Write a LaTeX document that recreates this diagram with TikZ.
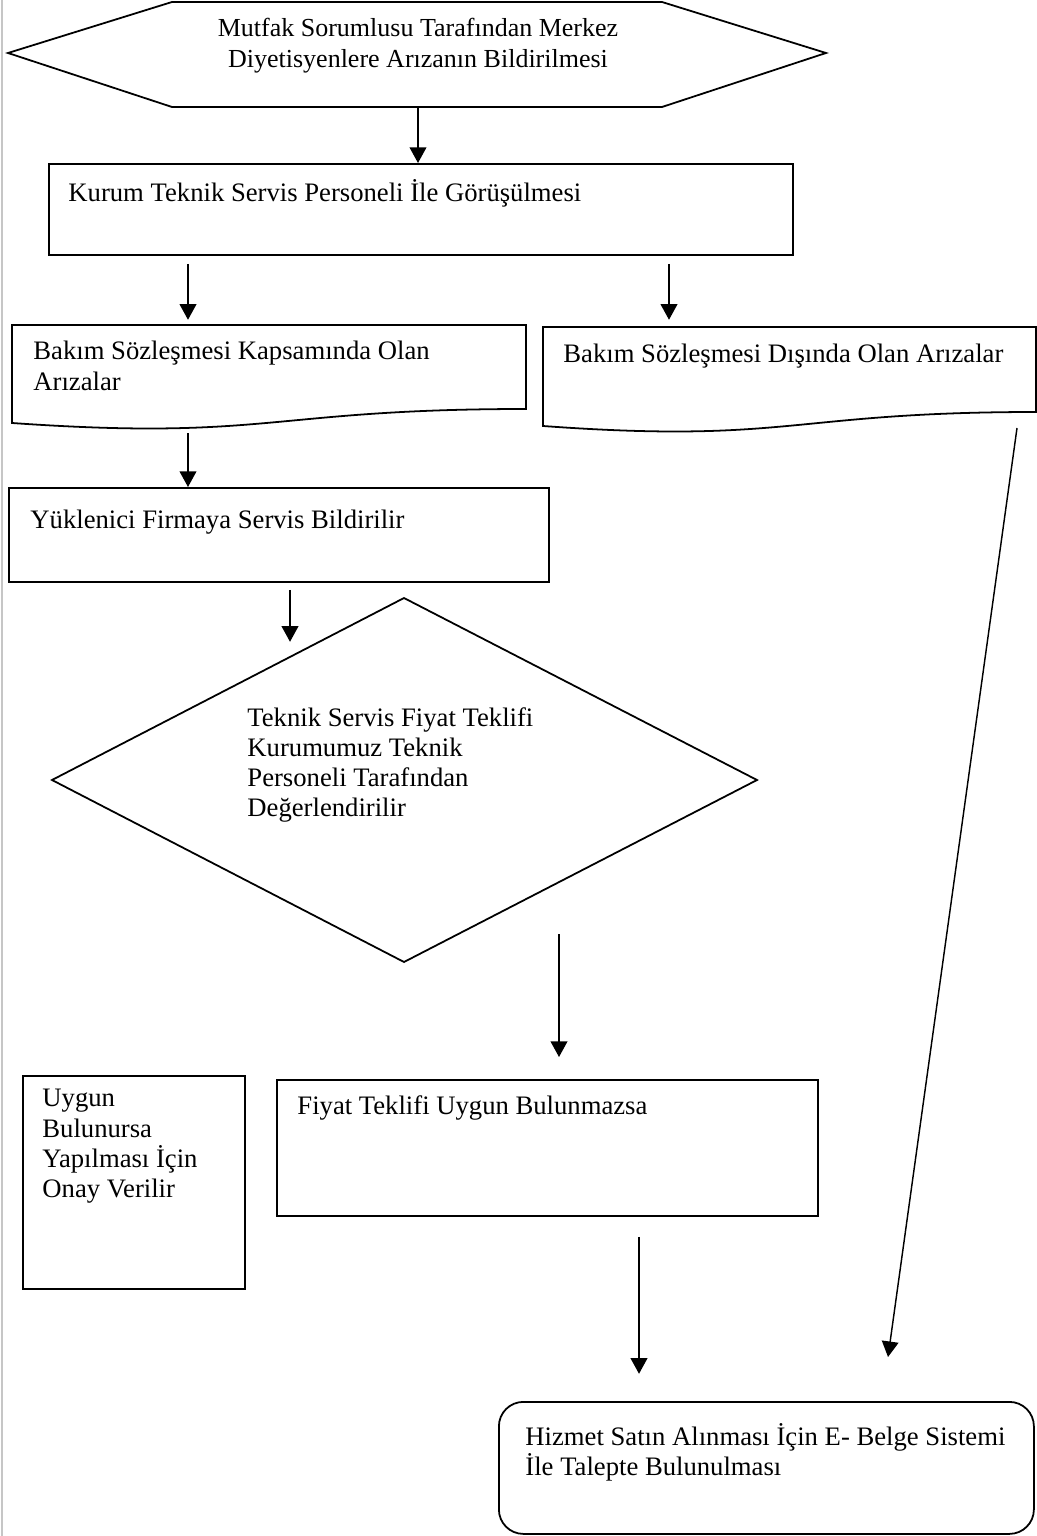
\documentclass[tikz,border=0pt]{standalone}
\usepackage{fontspec}
\setmainfont{Liberation Serif}
\usetikzlibrary{arrows.meta,positioning,calc}
\newcommand{\pxl}{0.45pt}

\tikzset{
  box/.style={draw, line width=0.8pt, inner sep=0pt, anchor=north west},
  shp/.style={draw, line width=0.8pt},
  txt/.style={anchor=north west, inner sep=0pt, align=left,
    font=\fontsize{12}{13.6}\selectfont, execute at begin node=\strut},
  arr/.style={line width=0.65pt, -{Triangle[width=7.5pt,length=7pt]}},
}

\begin{document}
\begin{tikzpicture}[x=0.45pt,y=-0.45pt]
	\useasboundingbox (0,0) rectangle (1036,1536);
	\draw[gray!45, line width=1pt] (2,0) -- (2,1536);
	% start
	\draw[shp] (8,53) -- (172,2) -- (662,2) -- (826,53) -- (662,107) -- (172,107) -- cycle;
	\node[txt, anchor=north, align=center, font=\fontsize{11.7}{14}\selectfont] (bildirim) at (418,18) {Mutfak Sorumlusu Tarafından Merkez\\Diyetisyenlere Arızanın Bildirilmesi};
	\coordinate (hexB) at (418,107);
	% teknik servis
	\node[box, minimum width=744*\pxl, minimum height=91*\pxl] (kurum) at (48,163) {};
	\node[txt] (kurum-t) at ($(kurum.north west)+(20,16)$) {Kurum Teknik Servis Personeli İle Görüşülmesi};
	\draw[arr] (hexB) -- (hexB |- kurum.north);
	% two kinds of faults
	\draw[shp] (12,325) -- (526,325) -- (526,409) .. controls (269,409) and (269,441) .. (12,423) -- cycle;
	\node[txt] (kapsam) at (33,341) {Bakım Sözleşmesi Kapsamında Olan\\Arızalar};
	\draw[shp] (543,327) -- (1036,327) -- (1036,412) .. controls (790,412) and (790,444) .. (543,426) -- cycle;
	\node[txt] (disinda) at (563,341) {Bakım Sözleşmesi Dışında Olan Arızalar};
	\draw[arr] ($(kurum.south west)+(140,8)$) -- ++(0,56);
	\draw[arr] ($(kurum.south west)+(621,8)$) -- ++(0,56);
	% contractor
	\node[box, minimum width=540*\pxl, minimum height=94*\pxl] (yuklenici) at (8,487) {};
	\node[txt] (yuklenici-t) at ($(yuklenici.north west)+(22,20)$) {Yüklenici Firmaya Servis Bildirilir};
	\coordinate (kapsamB) at (188,433);
	\draw[arr] (kapsamB) -- (kapsamB |- yuklenici.north);
	% decision
	\draw[shp] (404,598) -- (757,780) -- (404,962) -- (52,780) -- cycle;
	\node[txt] (teklif) at (247,707) {Teknik Servis Fiyat Teklifi\\Kurumumuz Teknik\\Personeli Tarafından\\Değerlendirilir};
	\draw[arr] ($(yuklenici.south west)+(282,7)$) -- ++(0,52);
	% outcomes
	\node[box, minimum width=222*\pxl, minimum height=213*\pxl] (uygun) at (22,1075) {};
	\node[txt] (uygun-t) at ($(uygun.north west)+(20,14)$) {Uygun\\Bulunursa\\Yapılması İçin\\Onay Verilir};
	\node[box, minimum width=541*\pxl, minimum height=136*\pxl] (fiyat) at (276,1079) {};
	\node[txt] (fiyat-t) at ($(fiyat.north west)+(21,14)$) {Fiyat Teklifi Uygun Bulunmazsa};
	\coordinate (teklifB) at (559,934);
	\draw[arr] (teklifB) -- ($(teklifB |- fiyat.north)+(0,-22)$);
	% purchase request
	\node[box, rounded corners=11pt, minimum width=535*\pxl, minimum height=132*\pxl] (hizmet) at (498,1401) {};
	\node[txt] (hizmet-t) at ($(hizmet.north west)+(27,22)$) {Hizmet Satın Alınması İçin E- Belge Sistemi\\İle Talepte Bulunulması};
	\draw[arr] ($(fiyat.south west)+(363,20)$) -- ++(0,137);
	\coordinate (disindaB) at (1017,428);
	\draw[arr] (disindaB) -- ($(hizmet.north west)+(390,-44)$);
\end{tikzpicture}
\end{document}
